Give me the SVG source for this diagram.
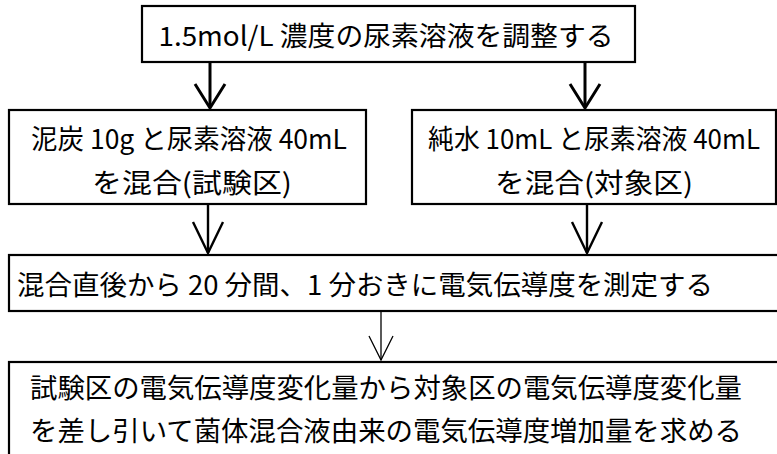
<svg xmlns="http://www.w3.org/2000/svg" width="777" height="454" viewBox="0 0 777 454">
<style>
.box{fill:#fff;stroke:#000;stroke-width:2.2}
.t{font-family:"Noto Sans CJK JP","Liberation Sans",sans-serif;font-size:27px;fill:#000;text-anchor:middle;dominant-baseline:central}
.a{fill:none;stroke:#000;stroke-linecap:butt;stroke-linejoin:miter}
</style>
<rect width="777" height="454" fill="#fff"/>
<g id="connectors">
<g class="a" stroke-width="3">
<line x1="210" y1="62" x2="210" y2="107"/>
<polyline points="195,84 210,108 225,84"/>
<line x1="585" y1="62" x2="585" y2="107"/>
<polyline points="570,84 585,108 600,84"/>
</g>
<g class="a" stroke-width="2.4">
<line x1="208" y1="204" x2="208" y2="253"/>
<polyline points="193,222 208,253 223,222"/>
<line x1="587" y1="204" x2="587" y2="253"/>
<polyline points="572,222 587,253 602,222"/>
</g>
<g class="a" stroke-width="1.3">
<line x1="381" y1="311" x2="381" y2="360"/>
<polyline points="369,336 381,360 393,336"/>
</g>
</g>
<g id="n1">
<rect class="box" x="142" y="6" width="493" height="56"/>
<text class="t" x="386" y="34" textLength="455" lengthAdjust="spacingAndGlyphs">1.5mol/L 濃度の尿素溶液を調整する</text>
</g>
<g id="n2">
<rect class="box" x="9" y="110" width="357" height="94"/>
<text class="t" x="189" y="137" textLength="316" lengthAdjust="spacingAndGlyphs">泥炭 10g と尿素溶液 40mL</text>
<text class="t" x="192" y="181" textLength="200" lengthAdjust="spacingAndGlyphs">を混合(試験区)</text>
</g>
<g id="n3">
<rect class="box" x="412" y="110" width="364" height="94"/>
<text class="t" x="594" y="137" textLength="332" lengthAdjust="spacingAndGlyphs">純水 10mL と尿素溶液 40mL</text>
<text class="t" x="594" y="181" textLength="198" lengthAdjust="spacingAndGlyphs">を混合(対象区)</text>
</g>
<g id="n4">
<rect class="box" x="9" y="255" width="800" height="56"/>
<text class="t" x="365" y="283" textLength="696" lengthAdjust="spacingAndGlyphs">混合直後から 20 分間、1 分おきに電気伝導度を測定する</text>
</g>
<g id="n5">
<rect class="box" x="9" y="362" width="800" height="120"/>
<text class="t" x="386" y="386" textLength="712" lengthAdjust="spacingAndGlyphs">試験区の電気伝導度変化量から対象区の電気伝導度変化量</text>
<text class="t" x="386" y="429" textLength="712" lengthAdjust="spacingAndGlyphs">を差し引いて菌体混合液由来の電気伝導度増加量を求める</text>
</g>
</svg>
